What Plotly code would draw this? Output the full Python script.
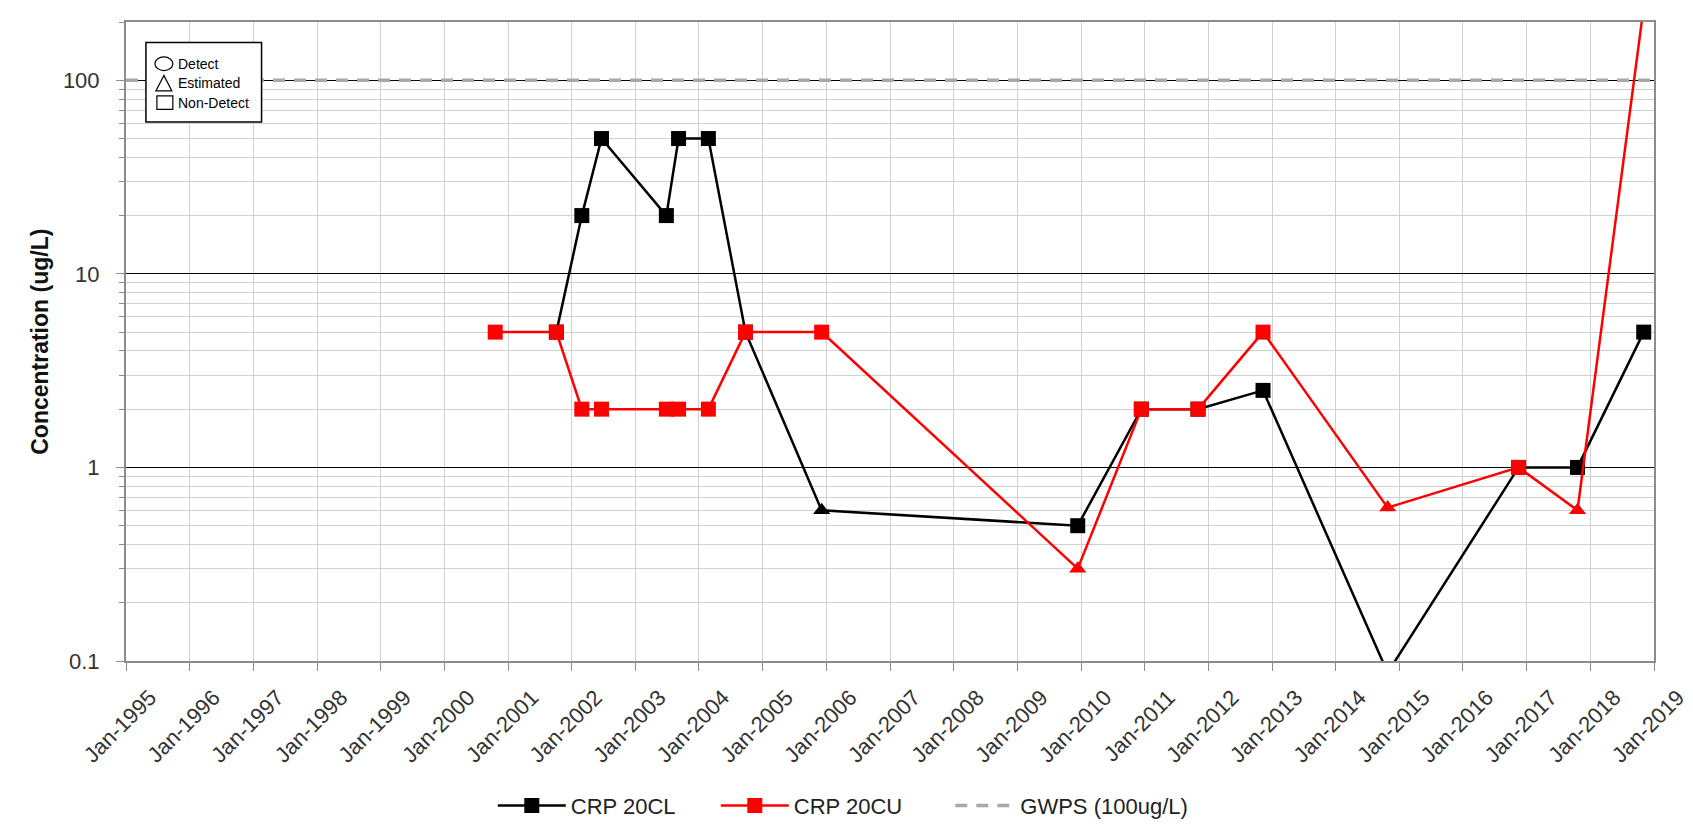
import math
import plotly.graph_objects as go

# ---------------- data ----------------
dates_cl = ["2001-10-05", "2002-02-28", "2002-06-21", "2003-06-28", "2003-09-06",
            "2004-02-24", "2004-09-24", "2005-12-05", "2009-12-13", "2010-12-13",
            "2011-11-03", "2012-11-10", "2014-10-26", "2016-11-15", "2017-10-19",
            "2018-11-03"]
conc_cl = [5, 20, 50, 20, 50, 50, 5, 0.6, 0.5, 2, 2, 2.5, 0.087, 1, 1, 5]
qual_cl = ["ND", "ND", "ND", "ND", "ND", "ND", "ND", "E", "ND", "ND",
           "ND", "ND", "ND", "ND", "ND", "ND"]

dates_cu = ["2000-10-19", "2001-10-05", "2002-02-28", "2002-06-21", "2003-06-28",
            "2003-09-06", "2004-02-24", "2004-09-24", "2005-12-05", "2009-12-13",
            "2010-12-13", "2011-11-03", "2012-11-10", "2014-10-26", "2016-11-15",
            "2017-10-19", "2018-11-03"]
conc_cu = [5, 5, 2, 2, 2, 2, 2, 5, 5, 0.3, 2, 2, 5, 0.62, 1, 0.6, 240]
qual_cu = ["ND", "ND", "ND", "ND", "ND", "ND", "ND", "ND", "ND", "E",
           "ND", "ND", "ND", "E", "ND", "E", "D"]

gwps_value = 100
gwps_label = "GWPS (100ug/L)"
x_range = ["1995-01-01", "2019-01-01"]
y_ticks = [0.1, 1, 10, 100]
y_ticktext = ["0.1", "1", "10", "100"]
y_max = 200
y_title = "Concentration (ug/L)"
key_labels = ["Detect", "Estimated", "Non-Detect"]

# ---------------- styling ----------------
symbol_map = {"D": "circle", "E": "triangle-up", "ND": "square"}
W, H = 1693, 831
ML, MR, MT, MB = 118, 42, 13, 160
PW, PH = W - ML - MR, H - MT - MB


def px_x(x):
    return (x - ML) / PW


def px_y(y):
    return (H - MB - y) / PH


fig = go.Figure()

fig.add_trace(go.Scatter(
    x=dates_cl, y=conc_cl, name="CRP 20CL", mode="lines+markers",
    line=dict(color="black", width=2.5),
    marker=dict(symbol=[symbol_map[q] for q in qual_cl], size=15, color="black"),
    legend="legend",
))
fig.add_trace(go.Scatter(
    x=dates_cu, y=conc_cu, name="CRP 20CU", mode="lines+markers",
    line=dict(color="#ff0000", width=2.5),
    marker=dict(symbol=[symbol_map[q] for q in qual_cu], size=15, color="#ff0000"),
    legend="legend",
))
fig.add_trace(go.Scatter(
    x=x_range, y=[gwps_value, gwps_value], name=gwps_label, mode="lines",
    line=dict(color="#a8a8a8", width=3.5, dash="12px,9px"),
    legend="legend2",
))

minor_vals = []
for e in range(-1, 3):
    for k in range(2, 10):
        v = k * 10 ** e
        if v <= y_max:
            minor_vals.append(v)

fig.update_layout(
    width=W, height=H,
    margin=dict(l=ML, r=MR, t=MT, b=MB),
    plot_bgcolor="white", paper_bgcolor="white",
    font=dict(family="Arial, Liberation Sans, sans-serif", size=22, color="#333333"),
    legend=dict(orientation="h", x=px_x(486), xanchor="left",
                y=px_y(820), yanchor="middle",
                font=dict(size=22, color="#222222"), itemwidth=68,
                entrywidth=140, traceorder="normal"),
    legend2=dict(orientation="h", x=px_x(945), xanchor="left",
                 y=px_y(820), yanchor="middle",
                 font=dict(size=22, color="#222222"), itemwidth=60),
    xaxis=dict(
        type="date", range=x_range, tick0="1995-01-01", dtick="M12",
        tickformat="%b-%Y", tickangle=-45,
        showgrid=True, gridcolor="#d0d0d0", gridwidth=1,
        ticks="outside", ticklen=8, tickcolor="#8c8c8c",
        showline=True, linecolor="#8c8c8c", linewidth=2, mirror=True,
        tickfont=dict(size=22, color="#333333"), zeroline=False,
        ticklabelshift=24, ticklabelstandoff=5,
    ),
    yaxis=dict(
        type="log", range=[-1, math.log10(y_max)],
        tickvals=y_ticks, ticktext=y_ticktext,
        showgrid=True, gridcolor="black", gridwidth=1,
        ticks="outside", ticklen=8, tickcolor="#8c8c8c",
        showline=True, linecolor="#8c8c8c", linewidth=2, mirror=True,
        tickfont=dict(size=22, color="#333333"),
        ticklabelstandoff=12,
        minor=dict(tickvals=minor_vals, showgrid=True, gridcolor="#d0d0d0",
                   ticks="outside", ticklen=5, tickcolor="#8c8c8c"),
        zeroline=False,
    ),
)

fig.add_annotation(text="<b>" + y_title + "</b>", xref="paper", yref="paper",
                   x=px_x(31), y=0.5, xanchor="center", yanchor="middle",
                   textangle=-90, showarrow=False,
                   font=dict(size=23, color="#111111"))

# qualifier key box (top-left)
shapes = [
    dict(type="rect", xref="paper", yref="paper",
         x0=px_x(138), x1=px_x(254), y0=px_y(116), y1=px_y(34),
         line=dict(color="black", width=1.5), fillcolor="white", layer="above"),
    dict(type="circle", xref="paper", yref="paper",
         x0=px_x(147), x1=px_x(165), y0=px_y(63), y1=px_y(49),
         line=dict(color="black", width=1.2), layer="above"),
    dict(type="path", xref="paper", yref="paper",
         path="M {:.5f} {:.5f} L {:.5f} {:.5f} L {:.5f} {:.5f} Z".format(
             px_x(156), px_y(68), px_x(148), px_y(84), px_x(164), px_y(84)),
         line=dict(color="black", width=1.2), layer="above"),
    dict(type="rect", xref="paper", yref="paper",
         x0=px_x(149), x1=px_x(165), y0=px_y(103), y1=px_y(89),
         line=dict(color="black", width=1.2), layer="above"),
]
fig.update_layout(shapes=shapes)
for lbl, yy in zip(key_labels, [56, 76, 96]):
    fig.add_annotation(text=lbl, xref="paper", yref="paper",
                       x=px_x(168), y=px_y(yy), xanchor="left", yanchor="middle",
                       showarrow=False, font=dict(size=14, color="black"))

fig.write_html("out.html")
